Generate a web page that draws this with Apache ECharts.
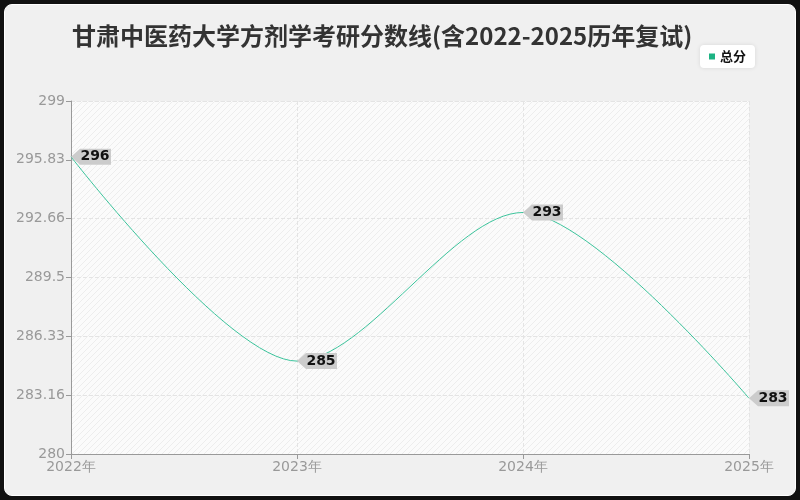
<!DOCTYPE html>
<html>
<head>
<meta charset="utf-8">
<script src="https://cdn.jsdelivr.net/npm/echarts@6/dist/echarts.min.js"></script>
<style>
  html, body { margin: 0; padding: 0; background: #111; }
  #wrap { position: absolute; left: 4px; top: 4px; width: 790px; height: 490px;
          border: 1px solid #fff; border-radius: 8px; background: #f0f0f0; overflow: hidden; }
  #chart { width: 790px; height: 490px; }
</style>
</head>
<body>
<div id="wrap"><div id="chart"></div></div>
<script>
const years = ['2022年', '2023年', '2024年', '2025年']
const scores = [296, 285, 293, 283]
const seriesName = '总分'
const titleText = '甘肃中医药大学方剂学考研分数线(含2022-2025历年复试)'

// hatch pattern for the plot background
function makeHatch() {
    let c = document.createElement('canvas')
    c.width = 6
    c.height = 6
    let ctx = c.getContext('2d')
    ctx.fillStyle = '#fbfbfb'
    ctx.fillRect(0, 0, 6, 6)
    ctx.strokeStyle = '#ededed'
    ctx.lineWidth = 1
    ctx.beginPath()
    ctx.moveTo(0, 6)
    ctx.lineTo(6, 0)
    ctx.stroke()
    return c
}

let EC = echarts.init(document.getElementById('chart'))
let option = {
    backgroundColor: '#f0f0f0',
    title: {
        text: titleText,
        left: 62,
        top: 14,
        textStyle: { fontSize: 24, fontWeight: 'bold', color: '#333', fontFamily: 'Noto Sans CJK SC' }
    },
    legend: {
        data: [{ name: seriesName, itemStyle: { color: '#1db383' } }],
        icon: 'rect',
        right: 40,
        top: 40,
        backgroundColor: '#fff',
        borderRadius: 4,
        padding: [5, 9],
        itemWidth: 6,
        itemHeight: 6,
        itemGap: 4,
        shadowColor: 'rgba(0,0,0,0.1)',
        shadowBlur: 4,
        textStyle: { fontSize: 13, color: '#111', fontWeight: 'bold', fontFamily: 'Noto Sans CJK SC' }
    },
    grid: {
        left: 66, right: 46, top: 96, bottom: 41,
        show: true,
        borderWidth: 0,
        backgroundColor: { image: makeHatch(), repeat: 'repeat' }
    },
    xAxis: {
        type: 'category',
        data: years,
        boundaryGap: false,
        axisLine: { lineStyle: { color: '#999' } },
        axisTick: { lineStyle: { color: '#999' } },
        axisLabel: { color: '#999', fontSize: 14, margin: 6, fontFamily: 'DejaVu Sans' },
        splitLine: { show: true, lineStyle: { type: 'dashed', color: '#e4e4e4' } }
    },
    yAxis: {
        type: 'value',
        min: 280,
        max: 299,
        interval: 19 / 6,
        axisLine: { show: true, lineStyle: { color: '#999' } },
        axisTick: { show: true, lineStyle: { color: '#999' } },
        axisLabel: {
            color: '#999', fontSize: 14, margin: 6, fontFamily: 'DejaVu Sans',
            formatter: v => String(Math.floor(v * 100 + 1e-6) / 100)
        },
        splitLine: { lineStyle: { type: 'dashed', color: '#e4e4e4' } }
    },
    series: [{
        name: seriesName,
        type: 'line',
        data: scores,
        smooth: 0.3,
        smoothMonotone: 'x',
        symbol: 'path://M0,8 L9,0 L40,0 L40,16 L9,16 Z',
        symbolSize: [40, 16],
        symbolOffset: [20, 0],
        symbolKeepAspect: false,
        itemStyle: { color: '#cccccc' },
        lineStyle: { color: '#3cc49c', width: 1 },
        label: {
            show: true,
            position: 'inside',
            offset: [4, 0],
            color: '#111',
            fontSize: 14,
            fontWeight: 'bold',
            fontFamily: 'DejaVu Sans'
        }
    }]
}
EC.setOption(option)
</script>
</body>
</html>
